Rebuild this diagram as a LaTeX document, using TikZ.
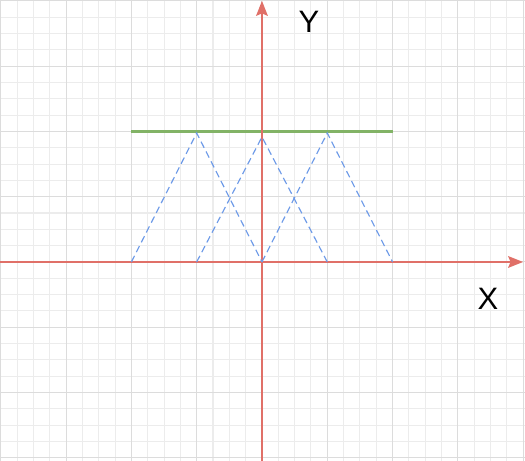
\documentclass[tikz,border=0pt]{standalone}
\usepackage{fontspec}
\setmainfont{Liberation Sans}
\usetikzlibrary{arrows.meta}
\definecolor{axisred}{HTML}{E07068}
\definecolor{linegreen}{HTML}{82B366}
\definecolor{dashblue}{HTML}{6D9AE8}
\definecolor{gridminor}{HTML}{ECECEC}
\definecolor{gridmajor}{HTML}{DCDCDC}
\begin{document}
\begin{tikzpicture}[x=1cm,y=1cm,
  minorgrid/.style={draw=gridminor, line width=0.45pt},
  majorgrid/.style={draw=gridmajor, line width=0.45pt},
  axisline/.style={draw=axisred, line width=1.05pt, -{Stealth[length=6.5pt,width=5pt,inset=1pt]}},
  topline/.style={draw=linegreen, line width=1.3pt},
  tri/.style={draw=dashblue, line width=0.5pt, dash pattern=on 3pt off 1.8pt},
  axislabel/.style={font=\fontsize{13.5}{16}\selectfont, inner sep=0pt}]
\useasboundingbox (-4.012,-3.047) rectangle (4.028,4.012);
\fill[white] (-4.012,-3.047) rectangle (4.028,4.012);
% grid
\foreach \i in {-16,...,16} {
  \draw[minorgrid] (\i*0.25,-3.1) -- (\i*0.25,4.1);
}
\foreach \j in {-13,...,16} {
  \draw[minorgrid] (-4.1,\j*0.25) -- (4.1,\j*0.25);
}
\foreach \i in {-4,...,4} {
  \draw[majorgrid] (\i,-3.1) -- (\i,4.1);
}
\foreach \j in {-3,...,4} {
  \draw[majorgrid] (-4.1,\j) -- (4.1,\j);
}
% coordinates
\coordinate (gl) at (-2,2);
\coordinate (gr) at (2,2);
\coordinate (b1) at (-2,0);
\coordinate (b2) at (-1,0);
\coordinate (b3) at (0,0);
\coordinate (b4) at (1,0);
\coordinate (b5) at (2,0);
\coordinate (a1) at (-1,1.975);
\coordinate (a2) at (0,1.915);
\coordinate (a3) at (1,1.975);
\coordinate (xs) at (-4.02,0);
\coordinate (xe) at (4.0,0);
\coordinate (ys) at (0,-3.06);
\coordinate (ye) at (0,4.0);
% green line
\draw[topline] (gl) -- (gr);
% axes
\draw[axisline] (xs) -- (xe);
\draw[axisline] (ys) -- (ye);
% dashed triangles
\draw[tri] (b1) -- (a1) -- (b3);
\draw[tri] (b2) -- (a2) -- (b4);
\draw[tri] (b3) -- (a3) -- (b5);
% labels
\node[axislabel] (ylab) at (0.72,3.68) {Y};
\node[axislabel] (xlab) at (3.46,-0.567) {X};
\end{tikzpicture}
\end{document}
